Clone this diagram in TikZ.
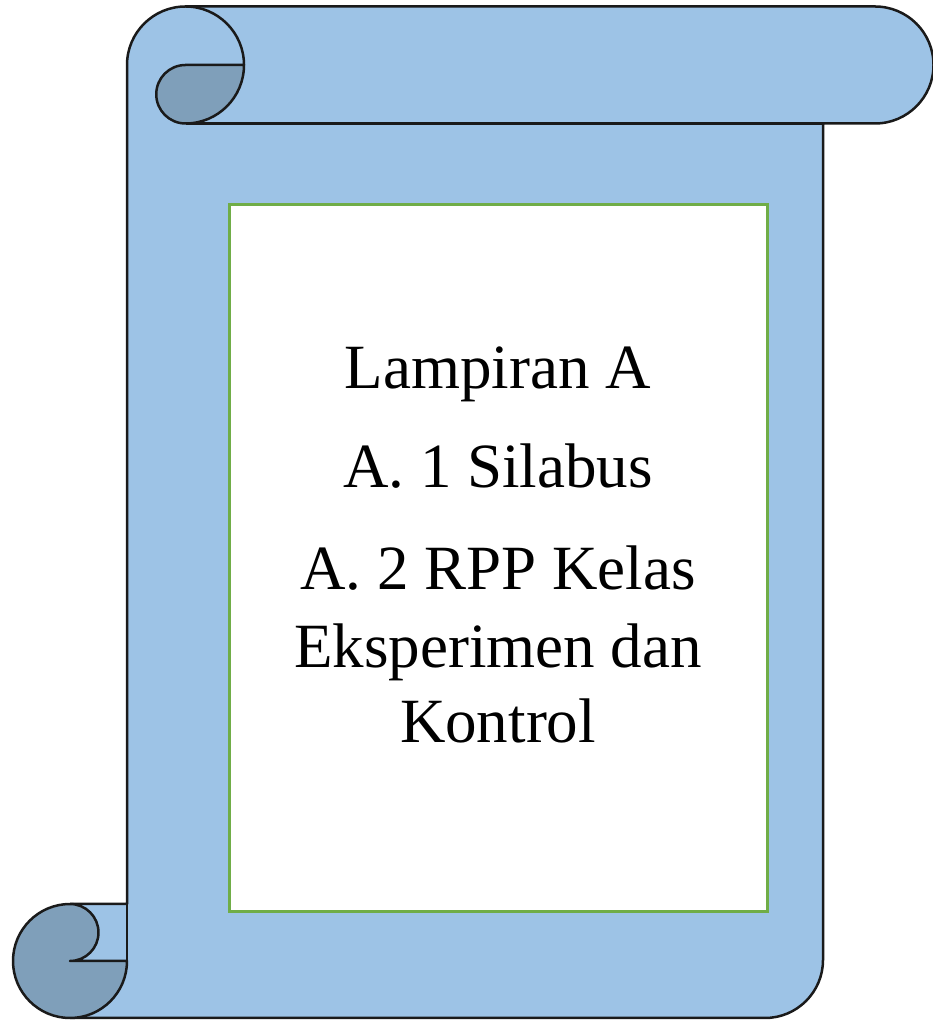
\documentclass[tikz,border=0pt]{standalone}
\usepackage{fontspec}
\setmainfont{Liberation Serif}
\definecolor{scrolllight}{HTML}{9DC3E6}
\definecolor{scrolldark}{HTML}{7F9FBA}
\definecolor{scrollline}{HTML}{1A1A1A}
\definecolor{pagegreen}{HTML}{70AD47}
\begin{document}
\begin{tikzpicture}[x=1pt,y=1pt,
  outline/.style={draw=scrollline,line width=2.5pt,line join=round},
  pagebox/.style={draw=pagegreen,line width=3pt,fill=white,inner sep=0pt},
  label/.style={anchor=base,font=\fontsize{63}{75}\selectfont,inner sep=0pt}]
\useasboundingbox (0,0) rectangle (933,1020);
% body fill
\fill[scrolllight] (70,116) -- (127,116) -- (127,955)
  arc[start angle=180,end angle=90,radius=58.5] -- (875,1013.5)
  arc[start angle=90,end angle=-90,radius=58.5] -- (823,896.5) -- (823,60)
  arc[start angle=0,end angle=-90,radius=58] -- (70,2) -- cycle;
% body outline
\draw[outline] (70,116) -- (127,116) -- (127,955)
  arc[start angle=180,end angle=90,radius=58.5] -- (875,1013.5)
  arc[start angle=90,end angle=-90,radius=58.5] -- (823,896.5) -- (823,60)
  arc[start angle=0,end angle=-90,radius=58] -- (70,2);
\draw[outline] (127,116) -- (127,59);
\draw[outline] (185.5,896.5) -- (823,896.5);
\draw[outline] (185.5,1013.5) arc[start angle=90,end angle=0,radius=58.5];
% top curl (dark)
\draw[outline,fill=scrolldark] (185.5,955) -- (244,955)
  arc[start angle=0,end angle=-90,radius=58.5]
  arc[start angle=-90,end angle=-270,radius=29.25] -- cycle;
% bottom curl (dark)
\draw[outline,fill=scrolldark] (70,116)
  arc[start angle=90,end angle=360,radius=57] -- (70,59)
  arc[start angle=-90,end angle=90,radius=28.5] -- cycle;
% page
\node[pagebox,minimum width=538pt,minimum height=707pt] (page) at (498,461.5) {};
\node[label] (l1) at (498,631) {Lampiran A};
\node[label] (l2) at (498,532) {A. 1 Silabus};
\node[label] (l3) at (498,430) {A. 2 RPP Kelas};
\node[label] (l4) at (498,352) {Eksperimen dan};
\node[label] (l5) at (498,277) {Kontrol};
\end{tikzpicture}
\end{document}
